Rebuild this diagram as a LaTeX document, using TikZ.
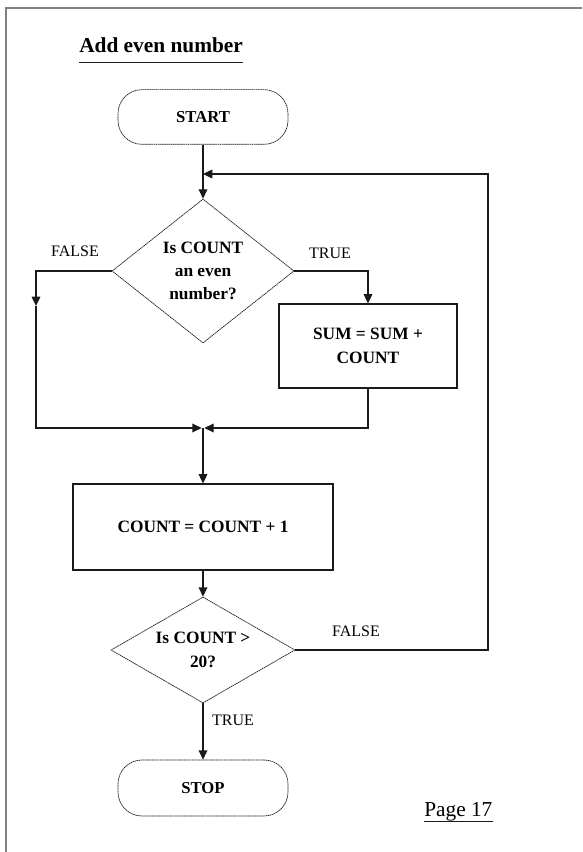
\documentclass[tikz,border=0pt]{standalone}
\usepackage{fontspec}
\setmainfont{Liberation Serif}
\usetikzlibrary{positioning,arrows.meta,shapes.geometric}
\definecolor{frameg}{HTML}{808080}
\definecolor{ink}{HTML}{1A1A1A}
\tikzset{
  term/.style ={rectangle, rounded corners=18pt, draw=ink, line width=0.5pt,
                dash pattern=on 1.2pt off 0.4pt, minimum width=127.5pt,
                minimum height=41pt, font=\bfseries\fontsize{12.5}{15}\selectfont},
  proc/.style ={rectangle, draw=ink, line width=0.8pt, align=center,
                font=\bfseries\fontsize{13}{17.5}\selectfont},
  test/.style ={diamond, draw=ink, line width=0.5pt, dash pattern=on 1.2pt off 0.4pt,
                inner sep=0pt, align=center, font=\bfseries\fontsize{13}{17.5}\selectfont},
  % connectors: thick line, filled triangle tip
  flow/.style ={draw=ink, line width=1pt, -{Triangle[length=7pt,width=6.5pt]}},
  lbl/.style  ={font=\fontsize{12}{14}\selectfont},
  uline/.style={draw=ink, line width=0.7pt},
}
\begin{document}
\begin{tikzpicture}[x=0.75pt,y=-0.75pt]
\useasboundingbox (0,0) rectangle (582,852);
\draw[frameg, line width=1.4pt] (6,852) -- (6,8) -- (582,8);
\node[anchor=base west, font=\bfseries\fontsize{16}{19}\selectfont, inner sep=0pt]
  (title) at (79,53) {Add even number};
\draw[uline] ([yshift=-7pt]title.base west) -- ([yshift=-7pt]title.base east);
\node[term] (start) at (203,117) {START};
\node[test, aspect=1.26, minimum width=136.5pt, minimum height=108pt]
  (even) at (203,271) {Is COUNT\\an even\\number?};
\node[proc, minimum width=133.5pt, minimum height=63pt]
  (addsum) at (368,346) {SUM = SUM +\\COUNT};
\node[proc, minimum width=195pt, minimum height=64.5pt]
  (inc) at (203,527) {COUNT = COUNT + 1};
\node[test, aspect=1.74, minimum width=138pt, minimum height=79.5pt]
  (limit) at (203,650) {Is COUNT >\\20?};
\node[term, minimum height=42pt] (stop) at (203,788) {STOP};
\coordinate (back) at (488,174);
\coordinate (falsedn) at (36,306);
\coordinate (join) at (203,428);
\draw[flow] (start) -- (even);
\draw[flow] (even.west) -| (falsedn);
\draw[flow, shorten >=1pt] (falsedn) |- (join);
\draw[flow] (even.east) -| (addsum.north);
\draw[flow, shorten >=1pt] (addsum.south) |- (join);
\draw[flow] (join) -- (inc);
\draw[flow] (inc) -- (limit);
\draw[flow] (limit.east) -| (back) -- (back -| start);
\draw[flow] (limit) -- (stop);
\foreach \n/\x/\y/\t in {f1/75/251/FALSE, t1/330/253/TRUE, f2/356/631/FALSE, t2/233/720/TRUE}
  {\node[lbl] (\n) at (\x,\y) {\t};}
\node[anchor=base west, font=\fontsize{16}{19}\selectfont, inner sep=0pt]
  (page) at (424,816) {Page 17};
\draw[uline] ([yshift=-4pt]page.base west) -- ([yshift=-4pt]page.base east);
\end{tikzpicture}
\end{document}
